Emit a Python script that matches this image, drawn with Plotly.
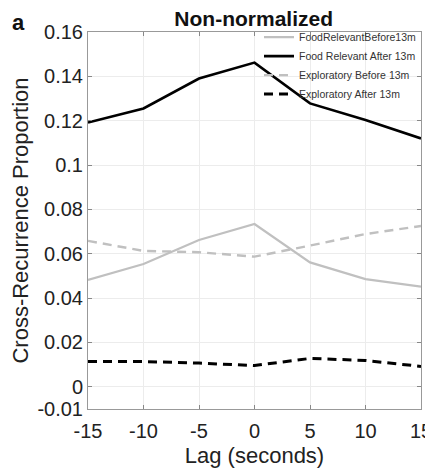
import plotly.graph_objects as go

lags = [-15, -10, -5, 0, 5, 10, 15]
food_before = [0.0482, 0.0554, 0.0662, 0.0734, 0.0561, 0.0486, 0.0452]
food_after = [0.1192, 0.1255, 0.1390, 0.1462, 0.1278, 0.1203, 0.1120]
expl_before = [0.0658, 0.0613, 0.0607, 0.0587, 0.0637, 0.0689, 0.0725]
expl_after = [0.0114, 0.0114, 0.0107, 0.0096, 0.0128, 0.0119, 0.0092]

y_ticks = [-0.01, 0, 0.02, 0.04, 0.06, 0.08, 0.1, 0.12, 0.14, 0.16]
y_ticktext = ["-0.01", "0", "0.02", "0.04", "0.06", "0.08", "0.1", "0.12", "0.14", "0.16"]
x_ticks = [-15, -10, -5, 0, 5, 10, 15]
x_ticktext = ["-15", "-10", "-5", "0", "5", "10", "15"]

gray = "rgb(192,192,192)"
fig = go.Figure()
fig.add_trace(go.Scatter(x=lags, y=food_before, mode="lines", name="FoodRelevantBefore13m",
                         line=dict(color=gray, width=2.2)))
fig.add_trace(go.Scatter(x=lags, y=food_after, mode="lines", name="Food Relevant After 13m",
                         line=dict(color="black", width=2.6)))
fig.add_trace(go.Scatter(x=lags, y=expl_before, mode="lines", name="Exploratory Before 13m",
                         line=dict(color=gray, width=2.4, dash="9px,6px")))
fig.add_trace(go.Scatter(x=lags, y=expl_after, mode="lines", name="Exploratory After 13m",
                         line=dict(color="black", width=3, dash="9px,6px")))

# page body has an 8px margin, so the figure is sized 8px smaller than the window
font = "Liberation Sans, Arial, sans-serif"
fig.update_layout(
    width=425, height=462,
    margin=dict(l=80, r=12, t=24, b=61, autoexpand=False),
    plot_bgcolor="white", paper_bgcolor="white",
    font=dict(family=font, color="#222"),
    showlegend=True,
    legend=dict(x=1, xanchor="right", y=1.025, yanchor="top",
                bgcolor="rgba(255,255,255,0)",
                font=dict(size=10.5, color="#333", family="Liberation Sans Narrow, Liberation Sans, Arial"),
                itemwidth=30, tracegroupgap=0),
    title=dict(text="<b>Non-normalized</b>", x=0.578, xanchor="center", y=0.978, yanchor="middle",
               font=dict(size=21, color="#111")),
    annotations=[dict(text="<b>a</b>", xref="paper", yref="paper", x=-0.209, y=1.0265,
                      xanchor="center", yanchor="middle", showarrow=False,
                      font=dict(size=22, color="#111"))],
)
fig.update_xaxes(range=[-15, 15], tickvals=x_ticks, ticktext=x_ticktext, ticks="inside", ticklen=4,
                 tickcolor="#888", showgrid=True, gridcolor="#ececec", gridwidth=1,
                 showline=True, linecolor="#999", linewidth=1, mirror="ticks", automargin=False,
                 zeroline=False, tickfont=dict(size=20, color="#222"), ticklabelstandoff=4,
                 title=dict(text="Lag (seconds)", font=dict(size=22, color="#222"), standoff=6))
fig.update_yaxes(range=[-0.01, 0.16], tickvals=y_ticks, ticktext=y_ticktext, ticks="inside",
                 ticklen=4, tickcolor="#888", showgrid=True, gridcolor="#ececec", gridwidth=1,
                 showline=True, linecolor="#999", linewidth=1, mirror="ticks", automargin=False,
                 zeroline=False, tickfont=dict(size=20, color="#222"),
                 title=dict(text="Cross-Recurrence Proportion", font=dict(size=22, color="#222"),
                            standoff=3))

fig.write_html("out.html")
